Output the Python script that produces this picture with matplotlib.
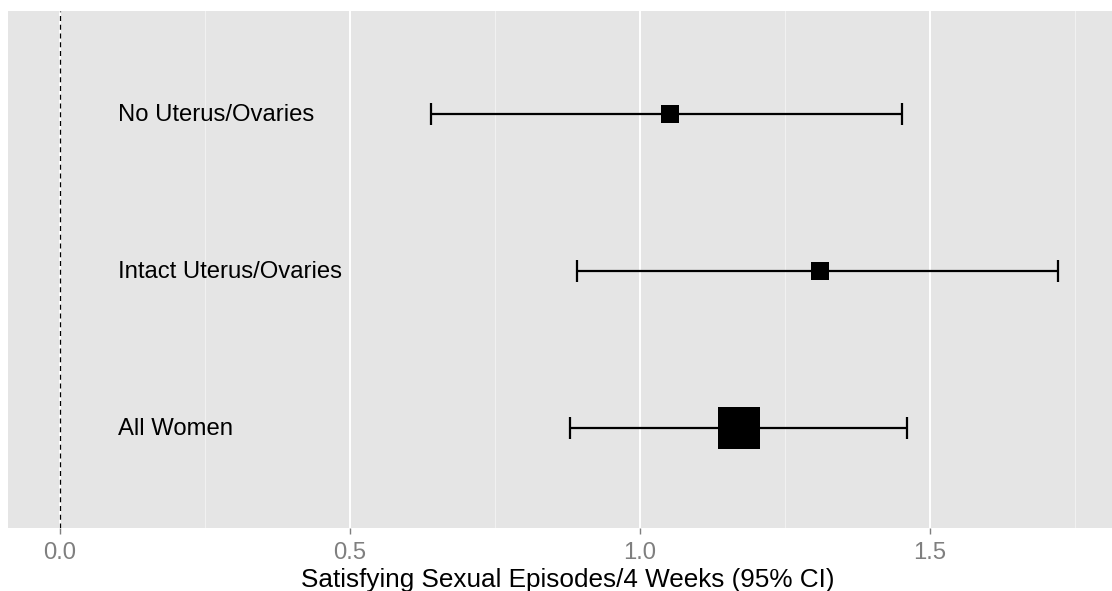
import matplotlib
matplotlib.use("Agg")
import matplotlib.pyplot as plt
from matplotlib.ticker import MultipleLocator

# Estimates with 95% confidence intervals
groups = ["All Women", "Intact Uterus/Ovaries", "No Uterus/Ovaries"]
estimate = [1.171, 1.310, 1.052]
ci_low = [0.879, 0.891, 0.640]
ci_high = [1.460, 1.721, 1.452]
box_px = [42, 18, 18]  # marker side in pixels (scaled by group weight)

W, H = 1112, 591
fig = plt.figure(figsize=(W / 100, H / 100), dpi=100)
ax = fig.add_axes([8 / W, 1 - 528 / H, (W - 8) / W, (528 - 11) / H])
ax.set_facecolor("#e5e5e5")

ax.set_xlim(-0.0897, 1.814)
ax.set_ylim(0.36, 3.66)
ax.xaxis.set_major_locator(MultipleLocator(0.5))
ax.xaxis.set_minor_locator(MultipleLocator(0.25))
ax.grid(which="major", axis="x", color="white", lw=1.4)
ax.grid(which="minor", axis="x", color="#f2f2f2", lw=0.7)
ax.set_axisbelow(True)

ax.axvline(0, color="black", ls=(0, (4, 3)), lw=0.9, zorder=2)

for i, g in enumerate(groups):
    y = i + 1
    ax.errorbar(estimate[i], y, xerr=[[estimate[i] - ci_low[i]], [ci_high[i] - estimate[i]]],
                fmt="none", ecolor="black", elinewidth=1.6, capsize=8, capthick=1.6, zorder=3)
    ax.plot(estimate[i], y, marker="s", color="black", ms=box_px[i] * 0.72,
            markeredgewidth=0, ls="none", zorder=4)
    ax.text(0.1, y - 0.005, g, ha="left", va="center", fontsize=17.2, color="black",
            family="Liberation Sans")

ax.set_yticks([])
for s in ax.spines.values():
    s.set_visible(False)
ax.tick_params(axis="x", which="major", length=4, width=1, color="#7f7f7f",
               labelcolor="#7f7f7f", labelsize=17.2, pad=6)
ax.tick_params(axis="x", which="minor", length=0)
ax.set_xticklabels([f"{v:.1f}" for v in ax.get_xticks()], family="Liberation Sans")
ax.set_xlabel("Satisfying Sexual Episodes/4 Weeks (95% CI)", fontsize=18.8,
              family="Liberation Sans")
ax.xaxis.set_label_coords(0.507, -0.101)
ax.xaxis.label.set_va("center")

fig.savefig("out.png", dpi=100)
